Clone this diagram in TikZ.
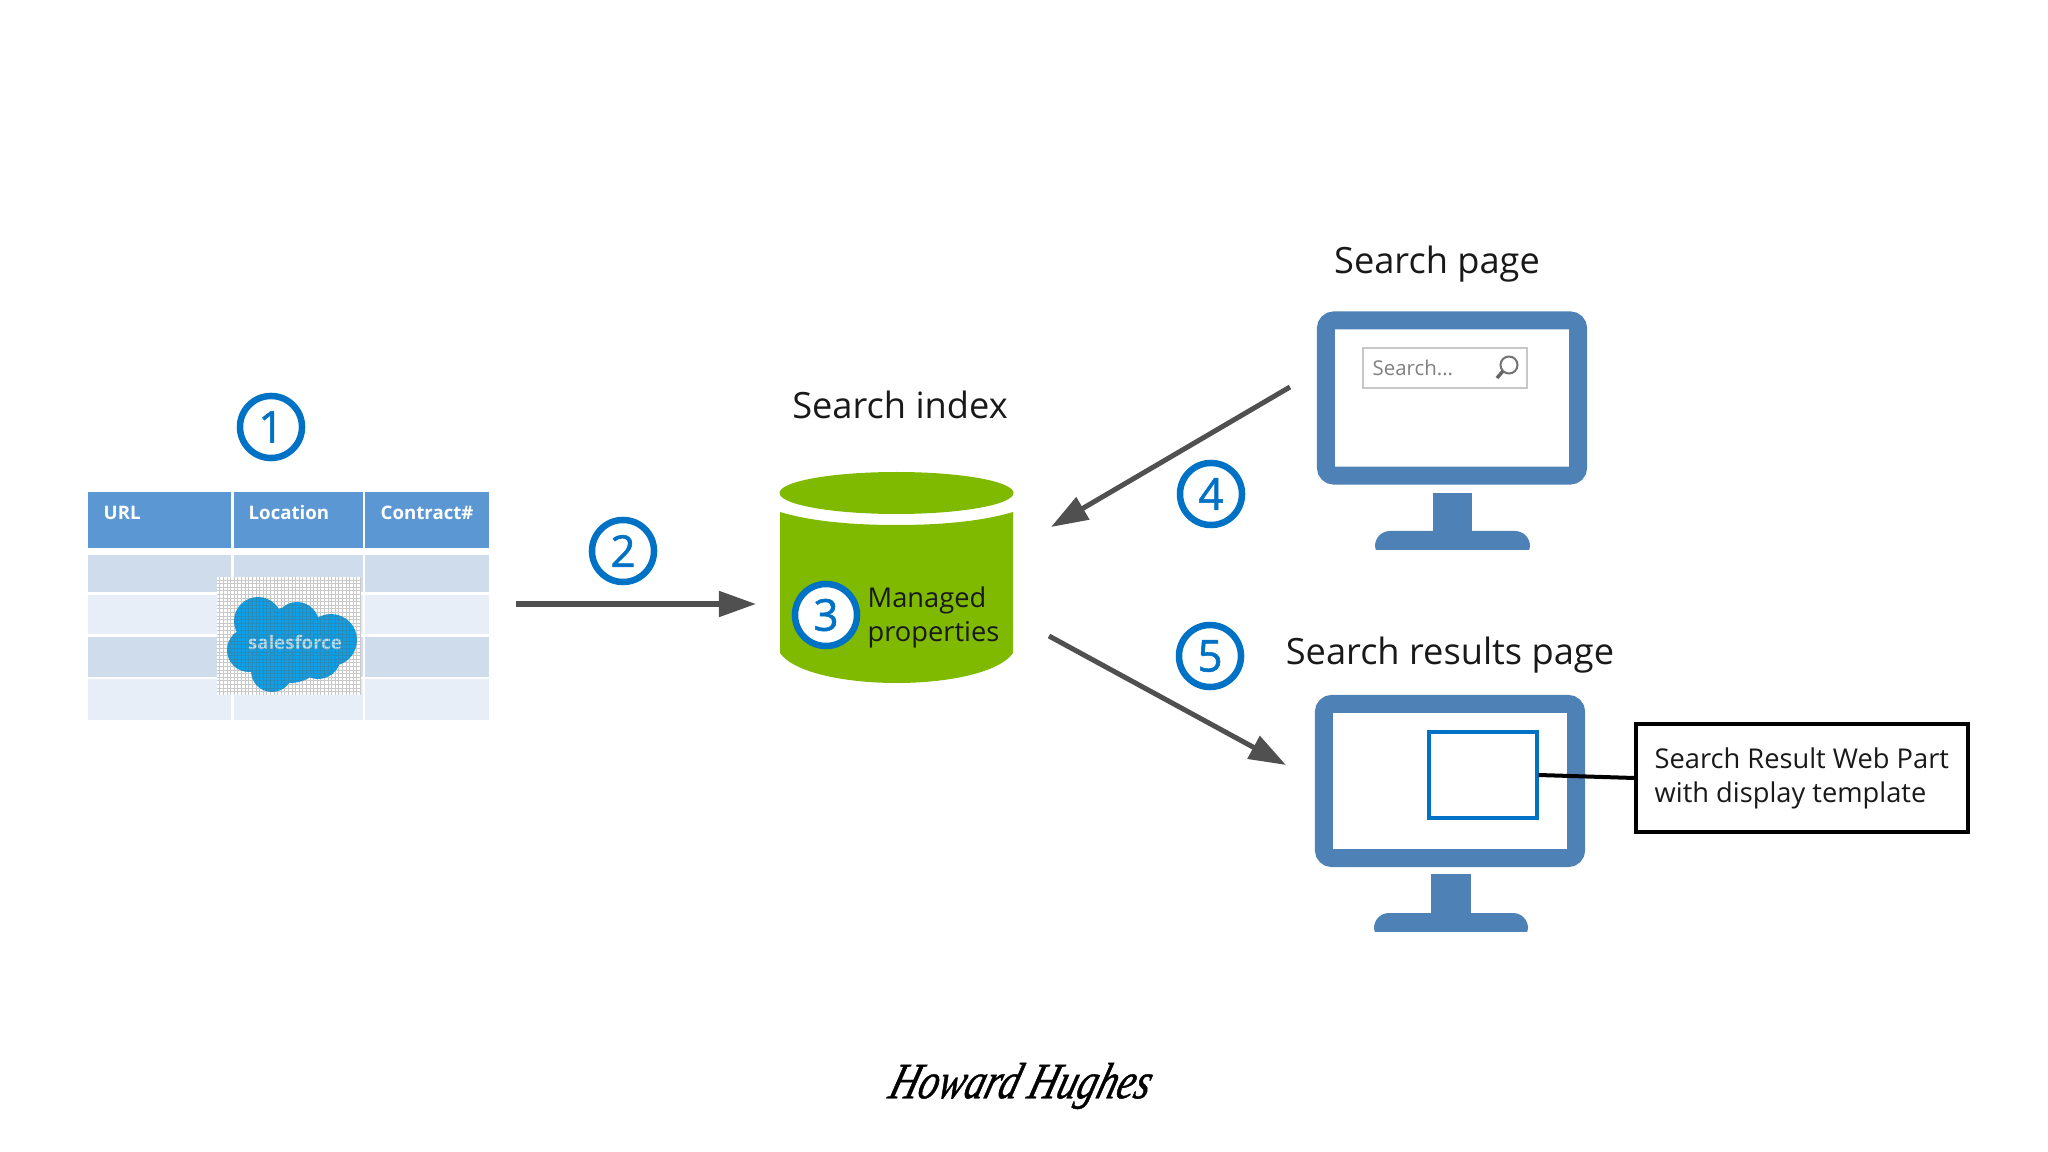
\documentclass[tikz,border=0pt]{standalone}
\usepackage{fontspec}
\setmainfont{Open Sans}
\newfontfamily\markfont[FakeBold=1.3]{Open Sans}
\newfontfamily\signfont[FakeBold=0.8,FakeSlant=0.3,FakeStretch=0.78]{Liberation Serif Italic}
\usetikzlibrary{positioning, arrows.meta, shapes.geometric}
\definecolor{officeblue}{HTML}{0072C6}
\definecolor{monblue}{HTML}{4E81B6}
\definecolor{headblue}{HTML}{5B97D3}
\definecolor{rowdark}{HTML}{CFDCEC}
\definecolor{rowlight}{HTML}{E8EEF7}
\definecolor{cylgreen}{HTML}{7FBA00}
\definecolor{arrowgray}{HTML}{505050}
\definecolor{cloudblue}{HTML}{0AA0EA}

\begin{document}
\begin{tikzpicture}[
    x=0.01cm, y=-0.01cm,
    >=Stealth,
    titletext/.style={font=\fontsize{10.3}{12}\selectfont, text=black!90, inner sep=0pt},
    bodytext/.style={font=\fontsize{7.75}{9.7}\selectfont, align=left, inner sep=0pt, text=black!90},
    headtext/.style={font=\fontsize{5.3}{7}\selectfont\bfseries, text=white, anchor=west, inner sep=0pt},
    stepmark/.style={circle, draw=officeblue, line width=0.065cm, fill=white, minimum size=0.62cm, inner sep=0pt, font=\markfont\fontsize{12.5}{14}\selectfont, text=officeblue},
    headcell/.style={rectangle, fill=headblue, inner sep=0pt},
    rowcell/.style={rectangle, inner sep=0pt},
    monshell/.style={rectangle, draw=monblue, line width=0.18cm, fill=white, rounded corners=0.08cm, inner sep=0pt},
    flow_edge/.style={-{Triangle[length=0.37cm,width=0.25cm]}, line width=0.05cm, arrowgray},
]
    \useasboundingbox (0,0) rectangle (2048,1152);

    % ===== TABLE =====
    \node[headcell, minimum width=1.43cm, minimum height=0.56cm] (headA) at (159.5,520) {};
    \node[headcell, minimum width=1.29cm, minimum height=0.56cm] (headB) at (298.5,520) {};
    \node[headcell, minimum width=1.24cm, minimum height=0.56cm] (headC) at (427,520) {};
    \node[headtext] (urlText) at (103,513) {URL};
    \node[headtext] (locText) at (248,513) {Location};
    \node[headtext] (conText) at (380,513) {Contract\#};

    \node[rowcell, fill=rowdark, minimum width=1.43cm, minimum height=0.37cm] (rowA1) at (159.5,573.5) {};
    \node[rowcell, fill=rowdark, minimum width=1.29cm, minimum height=0.37cm] (rowB1) at (298.5,573.5) {};
    \node[rowcell, fill=rowdark, minimum width=1.24cm, minimum height=0.37cm] (rowC1) at (427,573.5) {};
    \node[rowcell, fill=rowlight, minimum width=1.43cm, minimum height=0.39cm] (rowA2) at (159.5,614.5) {};
    \node[rowcell, fill=rowlight, minimum width=1.29cm, minimum height=0.39cm] (rowB2) at (298.5,614.5) {};
    \node[rowcell, fill=rowlight, minimum width=1.24cm, minimum height=0.39cm] (rowC2) at (427,614.5) {};
    \node[rowcell, fill=rowdark, minimum width=1.43cm, minimum height=0.40cm] (rowA3) at (159.5,657) {};
    \node[rowcell, fill=rowdark, minimum width=1.29cm, minimum height=0.40cm] (rowB3) at (298.5,657) {};
    \node[rowcell, fill=rowdark, minimum width=1.24cm, minimum height=0.40cm] (rowC3) at (427,657) {};
    \node[rowcell, fill=rowlight, minimum width=1.43cm, minimum height=0.41cm] (rowA4) at (159.5,699.5) {};
    \node[rowcell, fill=rowlight, minimum width=1.29cm, minimum height=0.41cm] (rowB4) at (298.5,699.5) {};
    \node[rowcell, fill=rowlight, minimum width=1.24cm, minimum height=0.41cm] (rowC4) at (427,699.5) {};

    % Logo on top of the table
    \fill[white] (217,577) rectangle (361,695);
    \fill[cloudblue] (258,621) circle[radius=24] (297,624) circle[radius=22] (331,640) circle[radius=26]
        (249,650) circle[radius=22] (272,671) circle[radius=21] (318,656) circle[radius=23] (290,645) circle[radius=38];
    \node[font=\fontsize{5.3}{7}\selectfont\bfseries, text=cloudblue!30!white, inner sep=0pt] (logoText) at (295,642) {salesforce};
    \draw[black!60, opacity=0.35, line width=0.12pt, xstep=0.036cm, ystep=0.036cm] (217,577) grid (361,695);

    \node[stepmark] (markOne) at (271,427) {1};

    % ===== INDEX =====
    \node[titletext] (indexTitle) at (900,405) {Search index};
    \fill[cylgreen] (896.5,493) ellipse[x radius=117, y radius=21];
    \fill[cylgreen] (780,512) .. controls (810,521) and (850,525) .. (896.5,525) .. controls (943,525) and (983,521) .. (1013,512)
        -- (1013,653) .. controls (1000,672) and (950,683) .. (896.5,683) .. controls (843,683) and (793,672) .. (780,653) -- cycle;
    \node[stepmark] (markThree) at (826,615) {3};
    \node[bodytext, anchor=west] (managedText) at (867,617) {Managed\\properties};
    \coordinate (indexIn) at (756,604);
    \coordinate (indexOut) at (1049,636);
    \coordinate (indexBack) at (1051,527);

    % ===== SEARCH PAGE =====
    \node[titletext] (pageTitle) at (1437,264) {Search page};
    \node[monshell, minimum width=2.52cm, minimum height=1.55cm] (screenA) at (1452,398) {};
    \fill[monblue] (1433,493) rectangle (1472,531);
    \fill[monblue, rounded corners=0.15cm] (1375,560) -- (1375,531) -- (1530,531) -- (1530,560) -- cycle;
    \fill[white] (1370,550) rectangle (1535,565);
    \node[rectangle, draw=black!22, line width=0.025cm, minimum width=1.64cm, minimum height=0.40cm] (searchBox) at (1445,368) {};
    \node[anchor=west, font=\fontsize{5.8}{8}\selectfont, text=black!50, inner sep=0pt] (searchText) at (1372,368) {Search...};
    \draw[black!55, line width=0.02cm] (1509,365) circle[radius=8.5];
    \draw[black!60, line width=0.035cm] (1503,371) -- (1497,378);
    \coordinate (pageOut) at (1290,387);
    \node[stepmark] (markFour) at (1211,494) {4};

    % ===== RESULTS PAGE =====
    \node[titletext] (resultTitle) at (1450,655) {Search results page};
    \node[monshell, minimum width=2.52cm, minimum height=1.54cm] (screenB) at (1450,781) {};
    \fill[monblue] (1431,874) rectangle (1471,913);
    \fill[monblue, rounded corners=0.15cm] (1374,942) -- (1374,913) -- (1528,913) -- (1528,942) -- cycle;
    \fill[white] (1369,932) rectangle (1533,947);
    \node[rectangle, draw=officeblue, line width=0.04cm, fill=white, minimum width=1.07cm, minimum height=0.86cm] (webPart) at (1483,775) {};
    \node[rectangle, draw=black, line width=0.04cm, fill=white, minimum width=3.31cm, minimum height=1.07cm] (callout) at (1802,778) {};
    \node[bodytext, anchor=west] (calloutText) at (1654,778) {Search Result Web Part\\with display template};
    \coordinate (resultIn) at (1286,765);
    \node[stepmark] (markFive) at (1210,656) {5};

    % ===== FLOW =====
    \coordinate (tableOut) at (516,604);
    \draw[flow_edge] (tableOut) -- (indexIn);
    \draw[flow_edge] (pageOut) -- (indexBack);
    \draw[flow_edge] (indexOut) -- (resultIn);
    \draw[black, line width=0.04cm] (webPart.east) -- (callout.west);
    \node[stepmark] (markTwo) at (623,551) {2};

    % ===== SIGNATURE =====
    \node[font=\signfont\fontsize{14.5}{16}\selectfont, inner sep=0pt] (signature) at (1017,1086) {Howard Hughes};
\end{tikzpicture}
\end{document}
